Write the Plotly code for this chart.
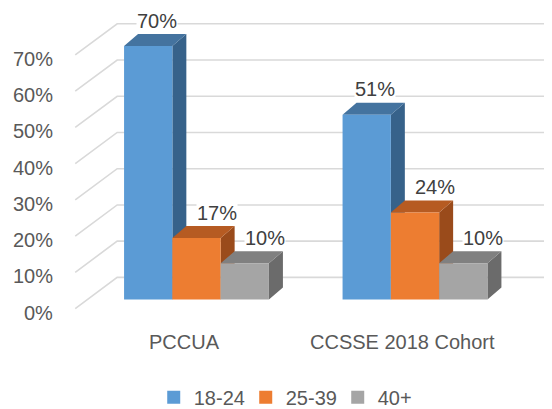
import plotly.graph_objects as go

categories = ['PCCUA', 'CCSSE 2018 Cohort']
series = ['18-24', '25-39', '40+']
values = {
    '18-24': [70, 51],
    '25-39': [17, 24],
    '40+': [10, 10],
}
tick_vals = [0, 10, 20, 30, 40, 50, 60, 70]
tick_text = ['0%', '10%', '20%', '30%', '40%', '50%', '60%', '70%']

colors = {
    '18-24': ('#5B9BD5', '#44739F', '#37628A'),
    '25-39': ('#ED7D31', '#B65B22', '#9A4B1B'),
    '40+': ('#A5A5A5', '#808080', '#6B6B6B'),
}
label_shift = {'18-24': 0.04, '25-39': 0.092, '40+': 0.092}

# oblique "3D" geometry (x in category units, y in percent)
bar_w = 0.221
bar_dx, bar_dy = 0.064, 3.3      # bar depth
wall_dx, wall_dy = 0.137, 6.1    # back wall offset from bar fronts
front_dx, front_dy = -0.055, -2.5  # front edge of the floor
left = -0.5

font = 'Liberation Sans, Arial, sans-serif'
fig = go.Figure()

# back wall gridlines and side wall diagonals
gx, gy = [], []
for t in tick_vals:
    gx += [left + front_dx, left + wall_dx, 1.7, None]
    gy += [t + front_dy, t + wall_dy, t + wall_dy, None]
fig.add_trace(go.Scatter(x=gx, y=gy, mode='lines', line=dict(color='#D9D9D9', width=1.6),
                         hoverinfo='skip', showlegend=False))

# bars: side, top, front faces
for j, s in enumerate(series):
    front_c, top_c, side_c = colors[s]
    fx, fy, tx, ty, sx, sy = [], [], [], [], [], []
    for i, v in enumerate(values[s]):
        x0 = i + (j - 1.5) * bar_w
        x1 = x0 + bar_w
        fx += [x0, x1, x1, x0, x0, None]
        fy += [0, 0, v, v, 0, None]
        tx += [x0, x1, x1 + bar_dx, x0 + bar_dx, x0, None]
        ty += [v, v, v + bar_dy, v + bar_dy, v, None]
        sx += [x1, x1 + bar_dx, x1 + bar_dx, x1, x1, None]
        sy += [0, bar_dy, v + bar_dy, v, 0, None]
    for xs, ys, c in [(sx, sy, side_c), (tx, ty, top_c), (fx, fy, front_c)]:
        fig.add_trace(go.Scatter(x=xs, y=ys, mode='lines', fill='toself', fillcolor=c,
                                 line=dict(width=0, color=c), hoverinfo='skip', showlegend=False))
    # legend entry
    fig.add_trace(go.Scatter(x=[None], y=[None], mode='markers', name=s,
                             marker=dict(symbol='square', size=13, color=front_c)))
    # data labels
    for i, v in enumerate(values[s]):
        x0 = i + (j - 1.5) * bar_w
        fig.add_annotation(x=x0 + bar_w / 2 + label_shift[s], y=v + bar_dy + 3.7,
                           text=f'{v}%', showarrow=False, bgcolor='white', borderpad=0,
                           font=dict(family=font, size=20, color='#404040'))

# y tick labels on the front edge of the side wall
for t, lab in zip(tick_vals, tick_text):
    fig.add_annotation(x=-0.647, y=t + front_dy - 1.1, text=lab, showarrow=False,
                       xanchor='right', font=dict(family=font, size=20, color='#595959'))

# category labels
for i, c in enumerate(categories):
    fig.add_annotation(x=i + front_dx, y=-11.6, text=c, showarrow=False,
                       font=dict(family=font, size=20, color='#595959'))

fig.update_layout(
    width=552, height=409,
    margin=dict(l=0, r=0, t=0, b=0),
    plot_bgcolor='white', paper_bgcolor='white',
    xaxis=dict(range=[-0.8627, 1.6636], visible=False, fixedrange=True),
    yaxis=dict(range=[-30.23, 80.46], visible=False, fixedrange=True),
    legend=dict(orientation='h', x=0.514, xanchor='center', y=0.029, yanchor='middle',
                font=dict(family=font, size=20, color='#595959'), itemwidth=30,
                entrywidth=47, bgcolor='rgba(0,0,0,0)'),
    showlegend=True,
)

fig.write_html('out.html')
